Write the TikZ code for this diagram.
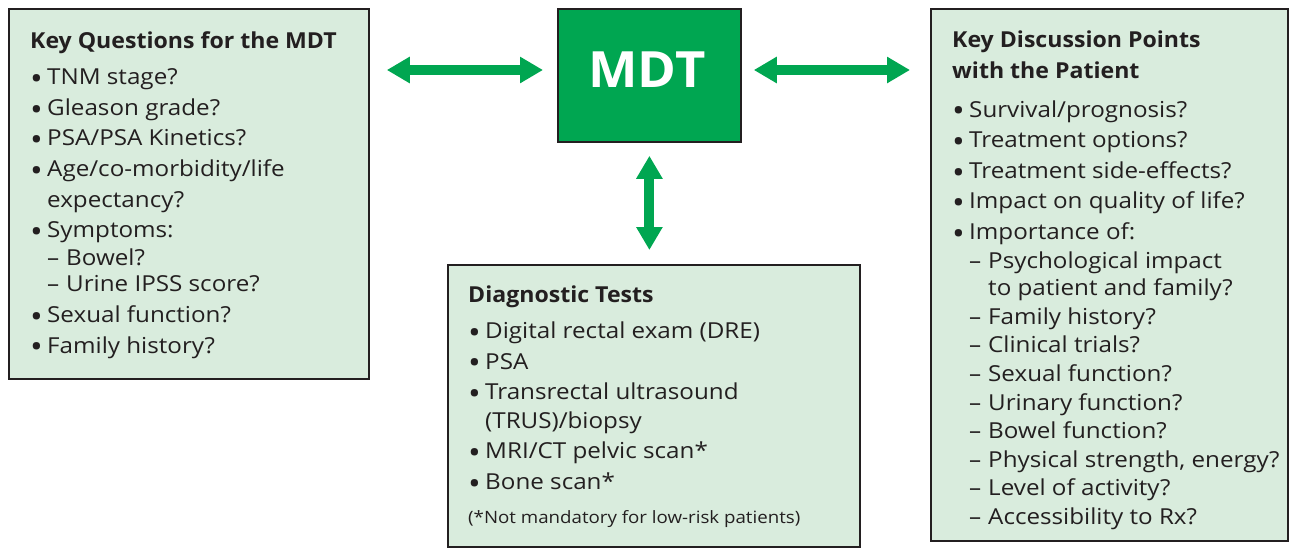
\documentclass[tikz,border=0pt]{standalone}
\usepackage{fontspec}
\usepackage{graphicx}
\setmainfont[FakeStretch=1.1, BoldFeatures={FakeStretch=1.05}]{Open Sans}
\usetikzlibrary{arrows.meta}

\definecolor{boxgreen}{HTML}{D9ECDD}
\definecolor{mdtgreen}{HTML}{00A651}
\definecolor{inkgray}{HTML}{231F20}

\newcommand{\bpt}{\makebox[17pt][l]{\raisebox{-4.8pt}{\scalebox{1.4}{•}}}}
\newcommand{\dpt}{\makebox[19pt][l]{–}}

\begin{document}
\begin{tikzpicture}
        [x=1pt, y=-1pt,
        box/.style={draw=inkgray, line width=1.8pt, fill=boxgreen, inner sep=0pt, anchor=north west},
        txt/.style={anchor=north west, inner sep=0pt, align=left, text=inkgray,
            font=\fontsize{22}{30.6}\selectfont},
        dblarrow/.style={draw=mdtgreen, fill=mdtgreen, line width=10pt,
            {Triangle[length=23pt,width=25pt]}-{Triangle[length=23pt,width=25pt]}}]

        \useasboundingbox (0,0) rectangle (1292,547);

        % --- Boxes ---
        \node[box, minimum width=360pt, minimum height=370pt] (qbox) at (8,8) {};
        \node[box, fill=mdtgreen, minimum width=183pt, minimum height=133pt] (mdt) at (557,8) {};
        \node[box, minimum width=357pt, minimum height=532pt] (pbox) at (930,8) {};
        \node[box, minimum width=412pt, minimum height=282pt] (dbox) at (447,264) {};

        \node[text=white, font=\fontsize{50}{50}\selectfont\bfseries] (mdtlabel) at (647,70) {MDT};

        % --- Texts ---
        \node[txt] (qtext) at (30,31) {\textbf{Key Questions for the MDT}\\[6pt]
            \bpt TNM stage?\\
            \bpt Gleason grade?\\
            \bpt PSA/PSA Kinetics?\\
            \bpt Age/co-morbidity/life\\
            \hspace*{17pt}expectancy?\\
            \bpt Symptoms:\\[-3pt]
            \hspace*{17pt}\dpt Bowel?\\[-4pt]
            \hspace*{17pt}\dpt Urine IPSS score?\\
            \bpt Sexual function?\\
            \bpt Family history?};

        \node[txt] (ptext) at (952,31) {\textbf{Key Discussion Points}\\
            \textbf{with the Patient}\\[8pt]
            \bpt Survival/prognosis?\\
            \bpt Treatment options?\\
            \bpt Treatment side-effects?\\
            \bpt Impact on quality of life?\\
            \bpt Importance of:\\[-2pt]
            \hspace*{17pt}\dpt Psychological impact\\[-3pt]
            \hspace*{36pt}to patient and family?\\[-2pt]
            \hspace*{17pt}\dpt Family history?\\[-2pt]
            \hspace*{17pt}\dpt Clinical trials?\\[-2pt]
            \hspace*{17pt}\dpt Sexual function?\\[-2pt]
            \hspace*{17pt}\dpt Urinary function?\\[-2pt]
            \hspace*{17pt}\dpt Bowel function?\\[-2pt]
            \hspace*{17pt}\dpt Physical strength, energy?\\[-2pt]
            \hspace*{17pt}\dpt Level of activity?\\[-2pt]
            \hspace*{17pt}\dpt Accessibility to Rx?};

        \node[txt] (dtext) at (468,286) {\textbf{Diagnostic Tests}\\[5pt]
            \bpt Digital rectal exam (DRE)\\
            \bpt PSA\\
            \bpt Transrectal ultrasound\\[-2pt]
            \hspace*{17pt}(TRUS)/biopsy\\
            \bpt MRI/CT pelvic scan*\\
            \bpt Bone scan*\\[3pt]
            {\fontsize{17}{18}\selectfont (*Not mandatory for low-risk patients)}};

        % --- Arrows ---
        \draw[dblarrow, shorten <=17pt, shorten >=14pt] (qbox.east |- mdtlabel) -- (mdt.west |- mdtlabel);
        \draw[dblarrow, shorten <=12pt, shorten >=20pt] (mdt.east |- mdtlabel) -- (pbox.west |- mdtlabel);
        \draw[dblarrow, shorten <=13pt, shorten >=14pt] (mdt.south) -- (mdt.south |- dbox.north);
\end{tikzpicture}
\end{document}
